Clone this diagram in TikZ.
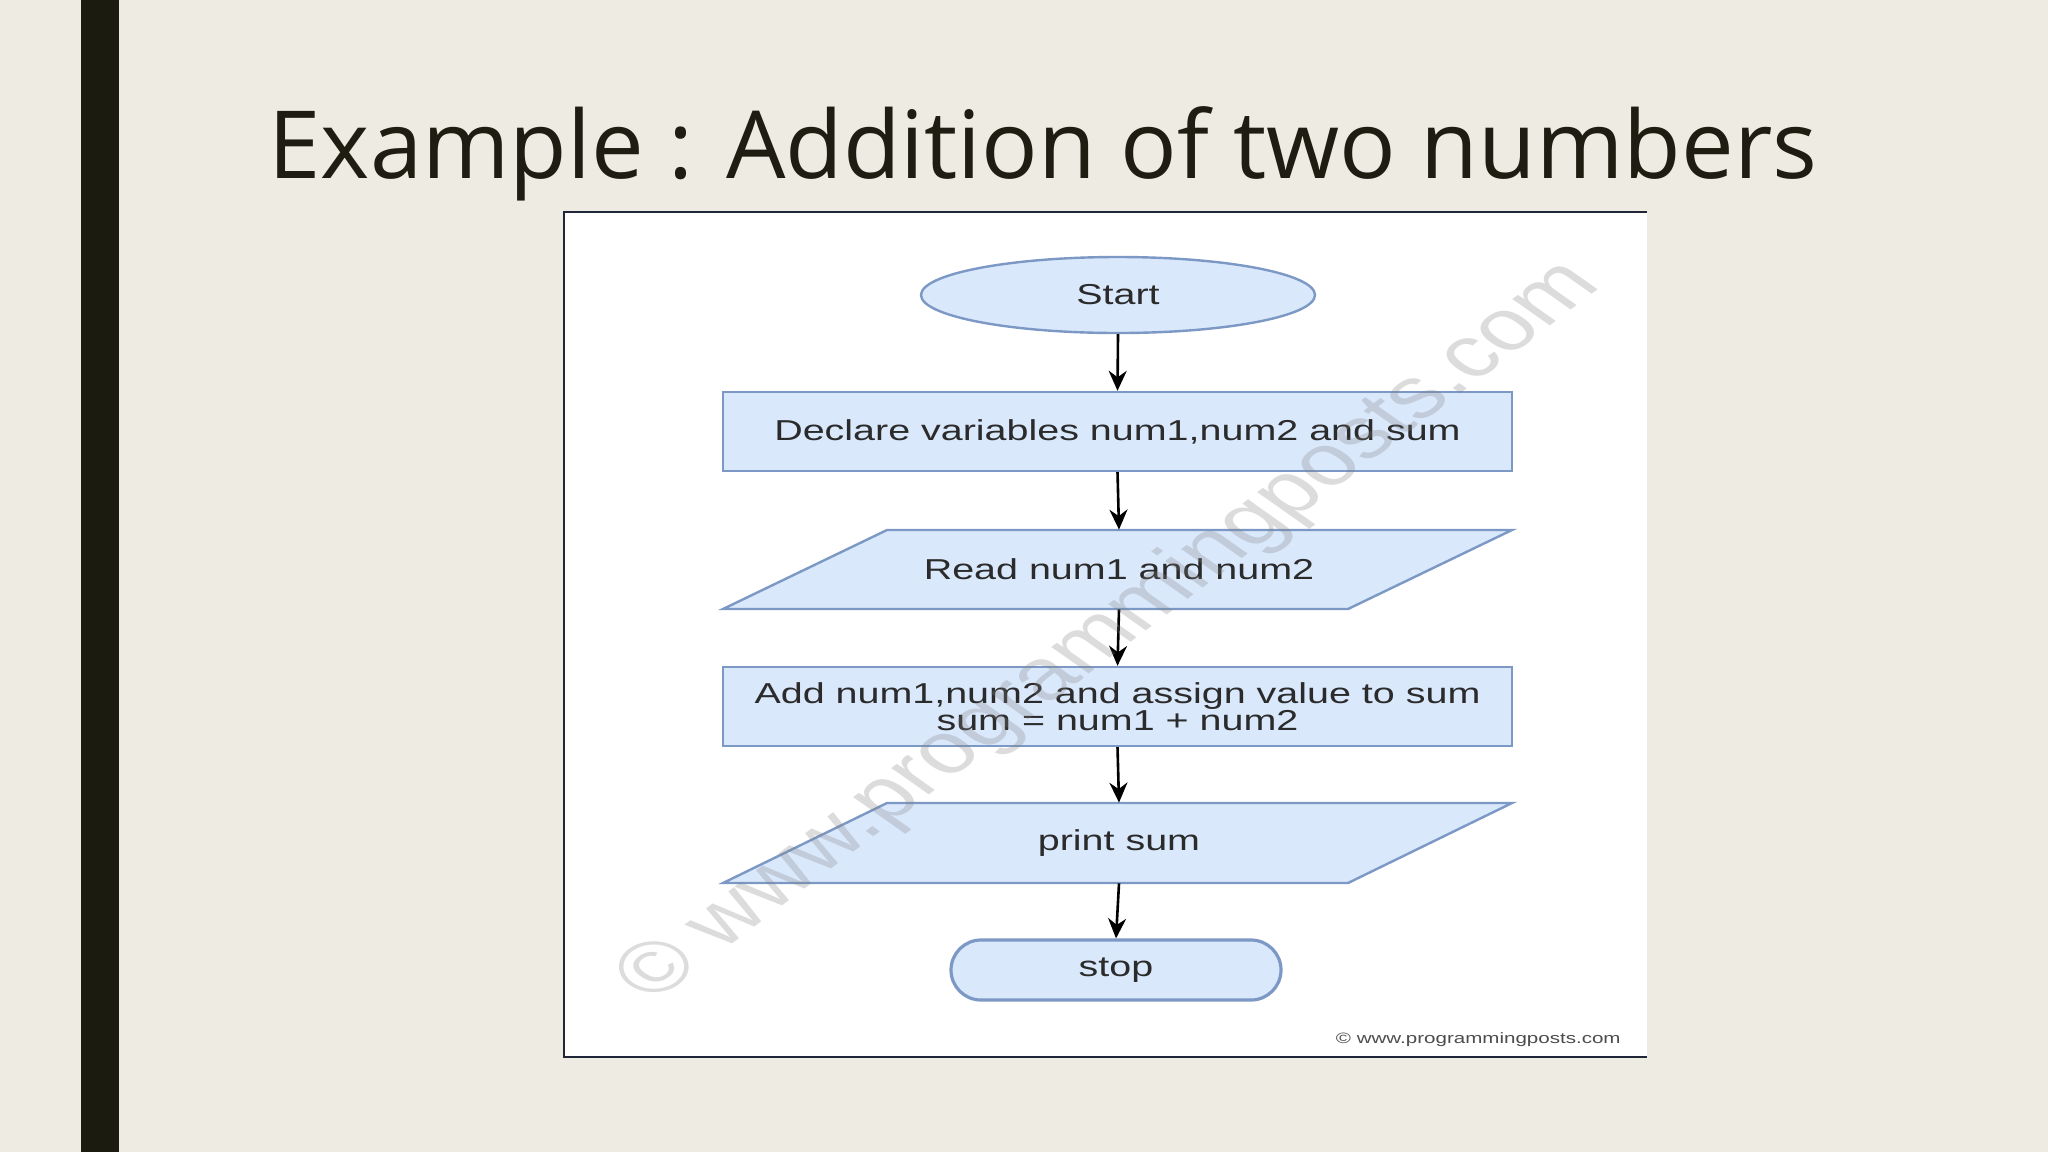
\documentclass[tikz,border=0pt]{standalone}
\usepackage{fontspec}
\setmainfont{Liberation Sans}
\newfontfamily\titlefont{Open Sans}
\usetikzlibrary{arrows.meta,shapes.geometric}
\definecolor{bg}{HTML}{EEEBE3}
\definecolor{barc}{HTML}{1C1B10}
\definecolor{titlec}{HTML}{1F1D12}
\definecolor{fillb}{HTML}{DAE8FC}
\definecolor{strokeb}{HTML}{7C98C4}
\definecolor{txt}{HTML}{2B2B2B}
\definecolor{framec}{HTML}{1F2638}
\newcommand{\wide}[1]{\scalebox{1.37}[1]{#1}}
\begin{document}
\begin{tikzpicture}[x=0.5pt,y=-0.5pt,
  flowfont/.style={font=\fontsize{14.4}{13.5}\selectfont, text=txt},
  box/.style={flowfont, draw=strokeb, fill=fillb, line width=1.2pt, minimum width=394.5pt, minimum height=39.5pt, inner sep=0pt, align=center},
  iotext/.style={flowfont, minimum width=314pt, minimum height=39.5pt, inner sep=0pt, align=center},
  iobox/.style={draw=strokeb, fill=fillb, line width=1.2pt},
  arr/.style={-{Stealth[length=10pt,width=9pt]}, line width=1.3pt, black},
]
\useasboundingbox (0,0) rectangle (2048,1152);
\fill[bg] (0,0) rectangle (2048,1152);
\fill[barc] (81,0) rectangle (119,1152);

\node[anchor=base, font=\titlefont\fontsize{47}{50}\selectfont, text=titlec, inner sep=0pt] (title) at (1043,178) {Example : Addition of two numbers};

% picture frame
\fill[white] (564,212) rectangle (1647,1057);
\draw[framec, line width=1pt] (1647,212) -- (564,212) -- (564,1057) -- (1647,1057);

% nodes
\node[box, shape=ellipse, minimum width=197pt, minimum height=38pt] (start) at (1118,295) {\wide{Start}};
\node[box] (decl) at (1117.5,431.5) {\wide{Declare variables num1,num2 and sum}};

\coordinate (readc) at (1119,569.5);
\draw[iobox] (readc) ++(-232,-39.5) -- ++(625,0) -- ++(-164,79) -- ++(-625,0) -- cycle;
\node[iotext] (read) at (readc) {\wide{Read num1 and num2}};

\node[box] (add) at (1117.5,706.5) {\wide{Add num1,num2 and assign value to sum}\\\wide{sum = num1 + num2}};

\coordinate (printc) at (1119,843);
\draw[iobox] (printc) ++(-232,-40) -- ++(625,0) -- ++(-164,80) -- ++(-625,0) -- cycle;
\node[iotext, minimum height=40pt] (print) at (printc) {\wide{print sum}};

\node[box, rounded corners=15pt, minimum width=165pt, minimum height=30pt, line width=1.6pt] (stop) at (1116,970) {\wide{stop}};

% connectors
\draw[arr] (start.south) -- (decl.north);
\draw[arr] (decl.south) -- (read.north);
\draw[arr] (read.south) -- (add.north);
\draw[arr] (add.south) -- (print.north);
\draw[arr] (print.south) -- (stop.north);

% footer
\node[anchor=base east, font=\fontsize{7.5}{8}\selectfont, text=black!70, inner sep=0pt] (foot) at (1621,1043) {\wide{© www.programmingposts.com}};

% watermark
\begin{scope}[xscale=1.37]
\node[transform shape, rotate=46, font=\fontsize{36}{36}\selectfont, text=gray, opacity=0.27] (wm) at (810,632) {© www.programmingposts.com};
\end{scope}
\end{tikzpicture}
\end{document}
